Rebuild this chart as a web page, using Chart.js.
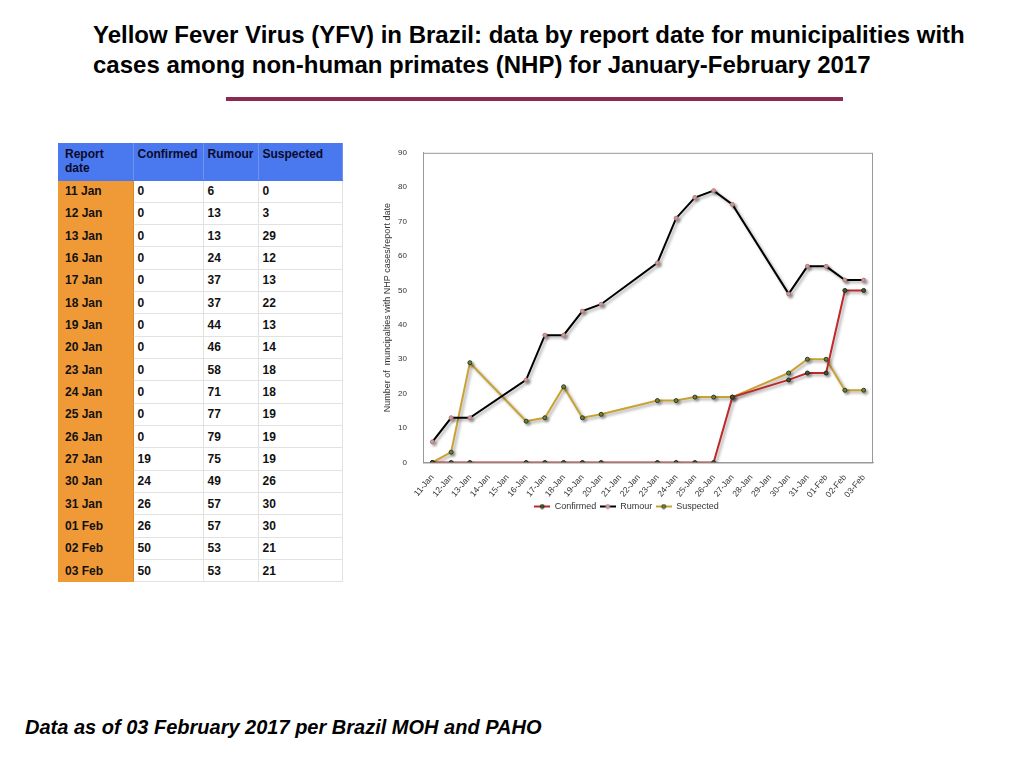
<!DOCTYPE html>
<html>
<head>
<meta charset="utf-8">
<script src="https://cdn.jsdelivr.net/npm/chart.js@4.4.1/dist/chart.umd.min.js"></script>
<style>
  html, body { margin:0; padding:0; background:#fff; }
  body { width:1024px; height:768px; position:relative; overflow:hidden; font-family:"Liberation Sans", Arial, sans-serif; }
  #title { position:absolute; left:93px; top:20px; font-weight:bold; font-size:24px; line-height:30px; color:#000; white-space:nowrap; }
  #rule { position:absolute; left:226px; top:97px; width:617px; height:4px; background:#8B2A52; }
  #tbl { position:absolute; left:58px; top:143px; border-collapse:collapse; table-layout:fixed; width:284px; font-weight:bold; font-size:12px; color:#111; }
  #tbl td, #tbl th { padding:0 0 0 4px; text-align:left; vertical-align:middle; border-bottom:1px solid #e2e2e2; border-right:1px solid #e2e2e2; overflow:hidden; white-space:nowrap; }
  #tbl tr { height:22.33px; }
  #tbl tr.h { height:37px; }
  #tbl th { background:#4A78EE; color:#0a0a2a; vertical-align:top; padding-top:4px; line-height:14px; border-right:1px solid #6f93f0; border-bottom:1px solid #4A78EE; }
  #tbl th.d, #tbl td.d { padding-left:7px; }
  #tbl td.d { background:#F09A37; border-bottom:1px solid #F09A37; border-right:1px solid #d88a30; }
  #footer { position:absolute; left:25px; top:716px; font-weight:bold; font-style:italic; font-size:20px; color:#000; white-space:nowrap; }
  #chartbox { position:absolute; left:380px; top:140px; width:505px; height:381px; }
</style>
</head>
<body>
<div id="title">Yellow Fever Virus (YFV) in Brazil: data by report date for municipalities with<br>cases among non-human primates (NHP) for January-February 2017</div>
<div id="rule"></div>
<table id="tbl"></table>
<div id="chartbox"><canvas id="c"></canvas></div>
<div id="footer">Data as of 03 February 2017 per Brazil MOH and PAHO</div>
<script>
// ---- data ----
const axisLabels = ['11-Jan','12-Jan','13-Jan','14-Jan','15-Jan','16-Jan','17-Jan','18-Jan','19-Jan','20-Jan','21-Jan','22-Jan','23-Jan','24-Jan','25-Jan','26-Jan','27-Jan','28-Jan','29-Jan','30-Jan','31-Jan','01-Feb','02-Feb','03-Feb'];
const reportDates = ['11-Jan','12-Jan','13-Jan','16-Jan','17-Jan','18-Jan','19-Jan','20-Jan','23-Jan','24-Jan','25-Jan','26-Jan','27-Jan','30-Jan','31-Jan','01-Feb','02-Feb','03-Feb'];
const confirmed = [0,0,0,0,0,0,0,0,0,0,0,0,19,24,26,26,50,50];
const rumour    = [6,13,13,24,37,37,44,46,58,71,77,79,75,49,57,57,53,53];
const suspected = [0,3,29,12,13,22,13,14,18,18,19,19,19,26,30,30,21,21];
const yTicks = [0,10,20,30,40,50,60,70,80,90];

// ---- table ----
const tbl = document.getElementById('tbl');
const widths = [75, 70, 55, 84];
let html = '<colgroup>' + widths.map(w=>'<col style="width:'+w+'px">').join('') + '</colgroup>';
html += '<tr class="h"><th class="d">Report<br>date</th><th>Confirmed</th><th>Rumour</th><th>Suspected</th></tr>';
reportDates.forEach((d,i)=>{
  html += '<tr><td class="d">'+d.replace('-',' ')+'</td><td>'+confirmed[i]+'</td><td>'+rumour[i]+'</td><td>'+suspected[i]+'</td></tr>';
});
tbl.innerHTML = html;

// ---- chart ----
function toAxis(vals){
  return axisLabels.map(l => { const k = reportDates.indexOf(l); return k >= 0 ? vals[k] : null; });
}
function legendIcon(line, fill, stroke){
  const cv = document.createElement('canvas');
  cv.width = 16; cv.height = 6;
  const g = cv.getContext('2d');
  g.strokeStyle = line; g.lineWidth = 2;
  g.beginPath(); g.moveTo(0,3); g.lineTo(16,3); g.stroke();
  g.fillStyle = fill; g.strokeStyle = stroke; g.lineWidth = 1;
  g.beginPath(); g.arc(8,3,2,0,Math.PI*2); g.fill(); g.stroke();
  return cv;
}
const styles = [
  { line:'#C0282A', fill:'#4a5a30', stroke:'#1f2a14' },
  { line:'#000000', fill:'#d9a3a3', stroke:'#b07878' },
  { line:'#C9A232', fill:'#7a8a40', stroke:'#2a3a18' }
];
const shadowPlugin = {
  id:'shadow',
  beforeDatasetsDraw(chart){ const c=chart.ctx; c.save(); c.shadowColor='rgba(0,0,0,0.35)'; c.shadowBlur=3; c.shadowOffsetX=2; c.shadowOffsetY=2; },
  afterDatasetsDraw(chart){ chart.ctx.restore(); }
};
const frame = {
  id:'frame',
  afterDraw(chart){ const {ctx, chartArea:a}=chart; ctx.save(); ctx.strokeStyle='#999'; ctx.lineWidth=1; ctx.strokeRect(a.left+0.5,a.top+0.5,a.right-a.left-1,a.bottom-a.top); ctx.restore(); }
};
Chart.defaults.font.family = '"Liberation Sans", Arial, sans-serif';
function ds(label, vals, s){
  return { label, data: toAxis(vals), borderColor:s.line, backgroundColor:s.line, borderWidth:2, pointRadius:2, pointBorderWidth:1,
           pointBackgroundColor:s.fill, pointBorderColor:s.stroke, spanGaps:true, tension:0,
           pointStyle:'circle' };
}
const icons = styles.map(s=>legendIcon(s.line, s.fill, s.stroke));
new Chart(document.getElementById('c'), {
  type:'line',
  data:{
    labels: axisLabels,
    datasets:[ ds('Confirmed', confirmed, styles[0]), ds('Rumour', rumour, styles[1]), ds('Suspected', suspected, styles[2]) ]
  },
  options:{
    responsive:true, maintainAspectRatio:false, animation:false,
    layout:{ padding:{ left:0, right:12, top:7, bottom:0 } },
    plugins:{
      legend:{ position:'bottom', labels:{ font:{size:9}, color:'#333', usePointStyle:true, pointStyleWidth:16, boxHeight:6, padding:3.5,
        generateLabels(chart){
          return chart.data.datasets.map((d,i)=>({ text:d.label, pointStyle:icons[i], fillStyle:d.borderColor, strokeStyle:d.borderColor, lineWidth:0, hidden:false, datasetIndex:i, fontColor:'#333' }));
        } } },
      tooltip:{ enabled:false }
    },
    scales:{
      x:{ offset:true, grid:{ display:false }, border:{ color:'#999' },
          ticks:{ font:{size:8.5}, color:'#333', maxRotation:50, minRotation:50, autoSkip:false, padding:2 },
          afterFit(s){ s.height = 36; } },
      y:{ min:0, max:90, grid:{ display:false }, border:{ color:'#999' },
          afterBuildTicks(s){ s.ticks = yTicks.map(v=>({value:v})); },
          ticks:{ font:{size:8}, color:'#333', padding:8 },
          title:{ display:true, text:'Number of  muncipalties with NHP cases/report date', font:{size:9}, color:'#333', padding:2 },
          afterFit(s){ s.width = 43; } }
    }
  },
  plugins:[shadowPlugin, frame]
});
</script>
</body>
</html>
